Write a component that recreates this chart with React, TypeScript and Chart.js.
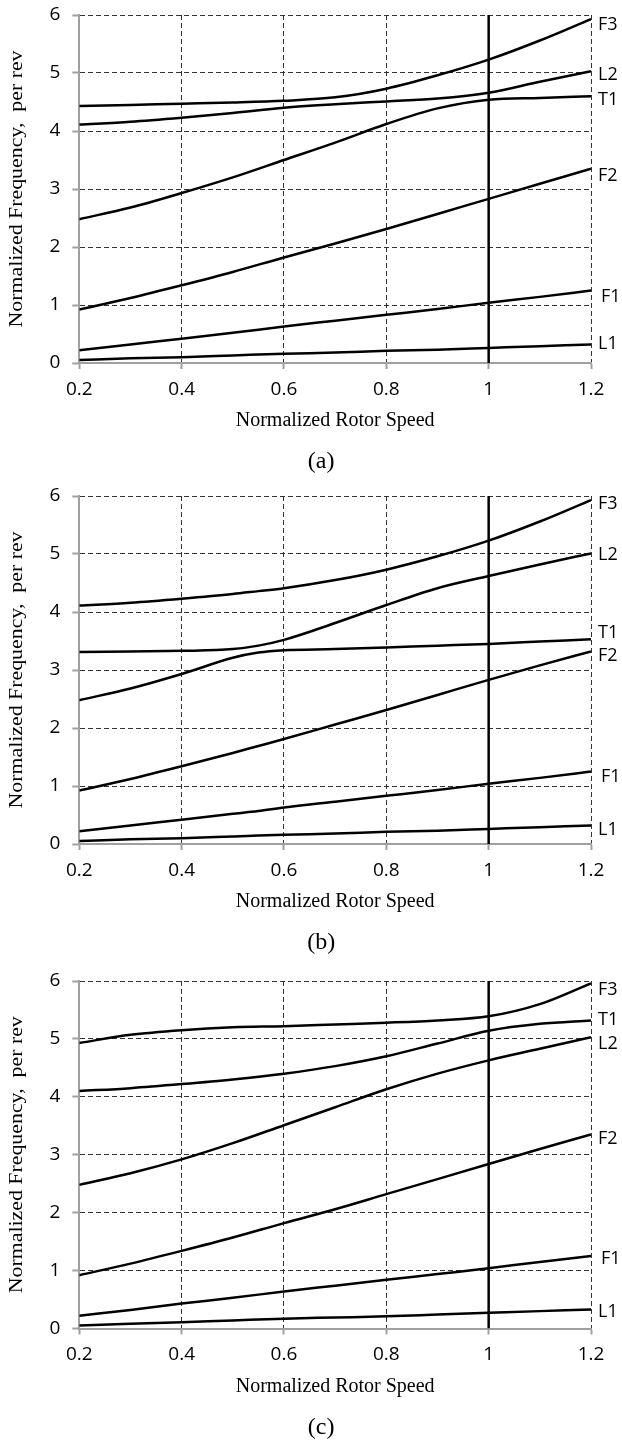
import React, { useEffect, useRef } from 'react';
import { Chart, registerables } from 'chart.js';

Chart.register(...registerables);

// ---------------- data ----------------
const X_TICKS = [0.2, 0.4, 0.6, 0.8, 1, 1.2];
const Y_TICKS = [0, 1, 2, 3, 4, 5, 6];
const REF_SPEED = [1, 1];
const REF_FREQ = [0, 6];
const X_TITLE = 'Normalized Rotor Speed';
const Y_TITLE = 'Normalized Frequency,  per rev';

// panel (a)
const X_A = [0.2, 0.3, 0.4, 0.5, 0.6, 0.7, 0.8, 0.9, 1.0, 1.1, 1.2];
const F3_A = [4.43, 4.45, 4.47, 4.49, 4.52, 4.58, 4.73, 4.96, 5.23, 5.56, 5.93];
const L2_A = [4.11, 4.16, 4.23, 4.31, 4.40, 4.46, 4.51, 4.56, 4.66, 4.85, 5.03];
const T1_A = [2.48, 2.68, 2.93, 3.20, 3.50, 3.80, 4.12, 4.39, 4.54, 4.57, 4.60];
const F2_A = [0.92, 1.12, 1.34, 1.57, 1.82, 2.06, 2.31, 2.57, 2.83, 3.09, 3.35];
const F1_A = [0.22, 0.32, 0.42, 0.52, 0.63, 0.73, 0.83, 0.93, 1.04, 1.14, 1.25];
const L1_A = [0.05, 0.08, 0.10, 0.13, 0.16, 0.18, 0.21, 0.23, 0.26, 0.29, 0.32];

// panel (b)
const X_B = [0.2, 0.3, 0.4, 0.5, 0.55, 0.6, 0.7, 0.8, 0.9, 1.0, 1.1, 1.2];
const F3_B = [4.11, 4.16, 4.23, 4.31, 4.36, 4.41, 4.55, 4.73, 4.96, 5.23, 5.56, 5.93];
const L2_B = [3.31, 3.32, 3.33, 3.36, 3.42, 3.52, 3.81, 4.12, 4.41, 4.62, 4.82, 5.01];
const T1_B = [2.48, 2.68, 2.93, 3.21, 3.30, 3.34, 3.36, 3.39, 3.42, 3.45, 3.49, 3.53];
const F2_B = [0.92, 1.12, 1.34, 1.57, 1.69, 1.81, 2.06, 2.31, 2.57, 2.83, 3.08, 3.32];
const F1_B = [0.22, 0.32, 0.42, 0.52, 0.57, 0.63, 0.73, 0.83, 0.93, 1.04, 1.14, 1.25];
const L1_B = [0.05, 0.08, 0.10, 0.13, 0.145, 0.16, 0.18, 0.21, 0.23, 0.26, 0.29, 0.32];

// panel (c)
const X_C = [0.2, 0.3, 0.4, 0.5, 0.6, 0.7, 0.8, 0.9, 1.0, 1.1, 1.2];
const F3_C = [4.93, 5.07, 5.15, 5.20, 5.22, 5.25, 5.28, 5.32, 5.39, 5.60, 5.96];
const T1_C = [4.10, 4.15, 4.22, 4.30, 4.40, 4.53, 4.70, 4.92, 5.14, 5.26, 5.32];
const L2_C = [2.48, 2.68, 2.92, 3.20, 3.51, 3.82, 4.13, 4.40, 4.63, 4.83, 5.03];
const F2_C = [0.92, 1.12, 1.34, 1.57, 1.82, 2.06, 2.32, 2.58, 2.84, 3.10, 3.35];
const F1_C = [0.22, 0.32, 0.43, 0.53, 0.64, 0.74, 0.84, 0.94, 1.04, 1.15, 1.25];
const L1_C = [0.05, 0.08, 0.11, 0.14, 0.17, 0.19, 0.21, 0.24, 0.27, 0.30, 0.33];

// ---------------- layout / style ----------------
const W = 622;
const PLOT_LEFT = 79.3;
const PLOT_RIGHT = 591;
const PLOT_TOP = 15;
const PLOT_H = 348;

type Series = { name: string; values: number[]; dx: number; dy: number };
type PanelCfg = { caption: string; x: number[]; series: Series[]; top: number; height: number };

const PANELS: PanelCfg[] = [
  {
    caption: '(a)', x: X_A, top: 0, height: 480,
    series: [
      { name: 'F3', values: F3_A, dx: 7, dy: 6 },
      { name: 'L2', values: L2_A, dx: 7, dy: 4 },
      { name: 'T1', values: T1_A, dx: 7, dy: 4 },
      { name: 'F2', values: F2_A, dx: 7, dy: 7 },
      { name: 'F1', values: F1_A, dx: 10, dy: 6 },
      { name: 'L1', values: L1_A, dx: 7, dy: -1 },
    ],
  },
  {
    caption: '(b)', x: X_B, top: 481, height: 480,
    series: [
      { name: 'F3', values: F3_B, dx: 7, dy: 4 },
      { name: 'L2', values: L2_B, dx: 7, dy: 1 },
      { name: 'T1', values: T1_B, dx: 7, dy: -6 },
      { name: 'F2', values: F2_B, dx: 7, dy: 4 },
      { name: 'F1', values: F1_B, dx: 10, dy: 5 },
      { name: 'L1', values: L1_B, dx: 7, dy: 4 },
    ],
  },
  {
    caption: '(c)', x: X_C, top: 965.5, height: 477.5,
    series: [
      { name: 'F3', values: F3_C, dx: 7, dy: 7 },
      { name: 'T1', values: T1_C, dx: 7, dy: -1 },
      { name: 'L2', values: L2_C, dx: 7, dy: 7 },
      { name: 'F2', values: F2_C, dx: 7, dy: 4 },
      { name: 'F1', values: F1_C, dx: 10, dy: 3 },
      { name: 'L1', values: L1_C, dx: 7, dy: 2 },
    ],
  },
];

const SANS = '"Open Sans", "Noto Sans", sans-serif';
const SERIF = '"Liberation Serif", "DejaVu Serif", serif';

function Panel({ cfg }: { cfg: PanelCfg }) {
  const ref = useRef<HTMLCanvasElement>(null);

  useEffect(() => {
    const canvas = ref.current!;
    const H = cfg.height;
    const xAxisH = H - PLOT_TOP - PLOT_H;

    const overlay = {
      id: 'overlay',
      afterDraw(chart: any) {
        const { ctx, chartArea } = chart;
        ctx.save();
        ctx.fillStyle = '#000';
        ctx.textBaseline = 'middle';
        ctx.textAlign = 'left';
        ctx.font = `18px ${SANS}`;
        cfg.series.forEach((s, i) => {
          const meta = chart.getDatasetMeta(i);
          const pt = meta.data[meta.data.length - 1];
          ctx.fillText(s.name, pt.x + s.dx, pt.y + s.dy);
        });
        // caption
        ctx.textAlign = 'center';
        ctx.font = `24px ${SERIF}`;
        ctx.fillText(cfg.caption, (chartArea.left + chartArea.right) / 2 - 14, chartArea.bottom + 99);
        // y title (slightly stretched like the source figure)
        ctx.font = `19px ${SERIF}`;
        ctx.translate(17.5, (chartArea.top + chartArea.bottom) / 2);
        ctx.rotate(-Math.PI / 2);
        ctx.scale(1.15, 1);
        ctx.fillText(Y_TITLE, 0, 0);
        ctx.restore();
      },
    };

    const datasets: any[] = cfg.series.map((s) => ({
      label: s.name,
      data: cfg.x.map((x, i) => ({ x, y: s.values[i] })),
      borderColor: '#000',
      borderWidth: 2.5,
      pointRadius: 0,
      cubicInterpolationMode: 'monotone',
      fill: false,
    }));
    datasets.push({
      label: 'ref',
      data: REF_SPEED.map((x, i) => ({ x, y: REF_FREQ[i] })),
      borderColor: '#000',
      borderWidth: 2.5,
      pointRadius: 0,
      fill: false,
    });

    const chart = new Chart(canvas, {
      type: 'line',
      data: { datasets },
      options: {
        animation: false,
        responsive: false,
        devicePixelRatio: 1,
        events: [],
        layout: { padding: { left: 0, right: W - PLOT_RIGHT, top: PLOT_TOP, bottom: 0 } },
        plugins: { legend: { display: false }, tooltip: { enabled: false }, title: { display: false } },
        scales: {
          x: {
            type: 'linear',
            min: 0.2,
            max: 1.2,
            afterBuildTicks: (s: any) => { s.ticks = X_TICKS.map((v) => ({ value: v })); },
            afterFit: (s: any) => {
              s.height = xAxisH;
              s.paddingLeft = 0; s.paddingRight = 0; s.paddingTop = 0; s.paddingBottom = 0;
            },
            grid: { color: '#333', lineWidth: 1, tickColor: '#a0a0a0', tickWidth: 2, tickLength: 6, tickBorderDash: [] },
            border: { display: true, color: '#a0a0a0', width: 2, dash: [5, 3] },
            ticks: {
              color: '#000',
              font: { family: SANS, size: 19 },
              padding: 9,
              maxRotation: 0,
              autoSkip: false,
              callback: (v: any) => String(Number(Number(v).toFixed(1))),
            },
            title: {
              display: true,
              text: X_TITLE,
              color: '#000',
              font: { family: SERIF, size: 20 },
              padding: { top: 0, bottom: xAxisH - 58 - 12 },
            },
          },
          y: {
            type: 'linear',
            min: 0,
            max: 6,
            afterBuildTicks: (s: any) => { s.ticks = Y_TICKS.map((v) => ({ value: v })); },
            afterFit: (s: any) => {
              s.width = PLOT_LEFT;
              s.paddingLeft = 0; s.paddingRight = 0; s.paddingTop = 0; s.paddingBottom = 0;
            },
            grid: { color: '#333', lineWidth: 1, tickColor: '#a0a0a0', tickWidth: 2, tickLength: 7, tickBorderDash: [] },
            border: { display: true, color: '#a0a0a0', width: 2, dash: [5, 3] },
            ticks: { color: '#000', font: { family: SANS, size: 19 }, padding: 12 },
          },
        },
      },
      plugins: [overlay],
    });
    return () => chart.destroy();
  }, [cfg]);

  return (
    <canvas
      ref={ref}
      width={W}
      height={cfg.height}
      style={{ position: 'absolute', left: 0, top: cfg.top, width: W, height: cfg.height, display: 'block' }}
    />
  );
}

export default function App() {
  return (
    <div style={{ position: 'absolute', left: 0, top: 0, width: W, height: 1443, background: '#fff', overflow: 'hidden' }}>
      {PANELS.map((p) => (
        <Panel key={p.caption} cfg={p} />
      ))}
    </div>
  );
}
